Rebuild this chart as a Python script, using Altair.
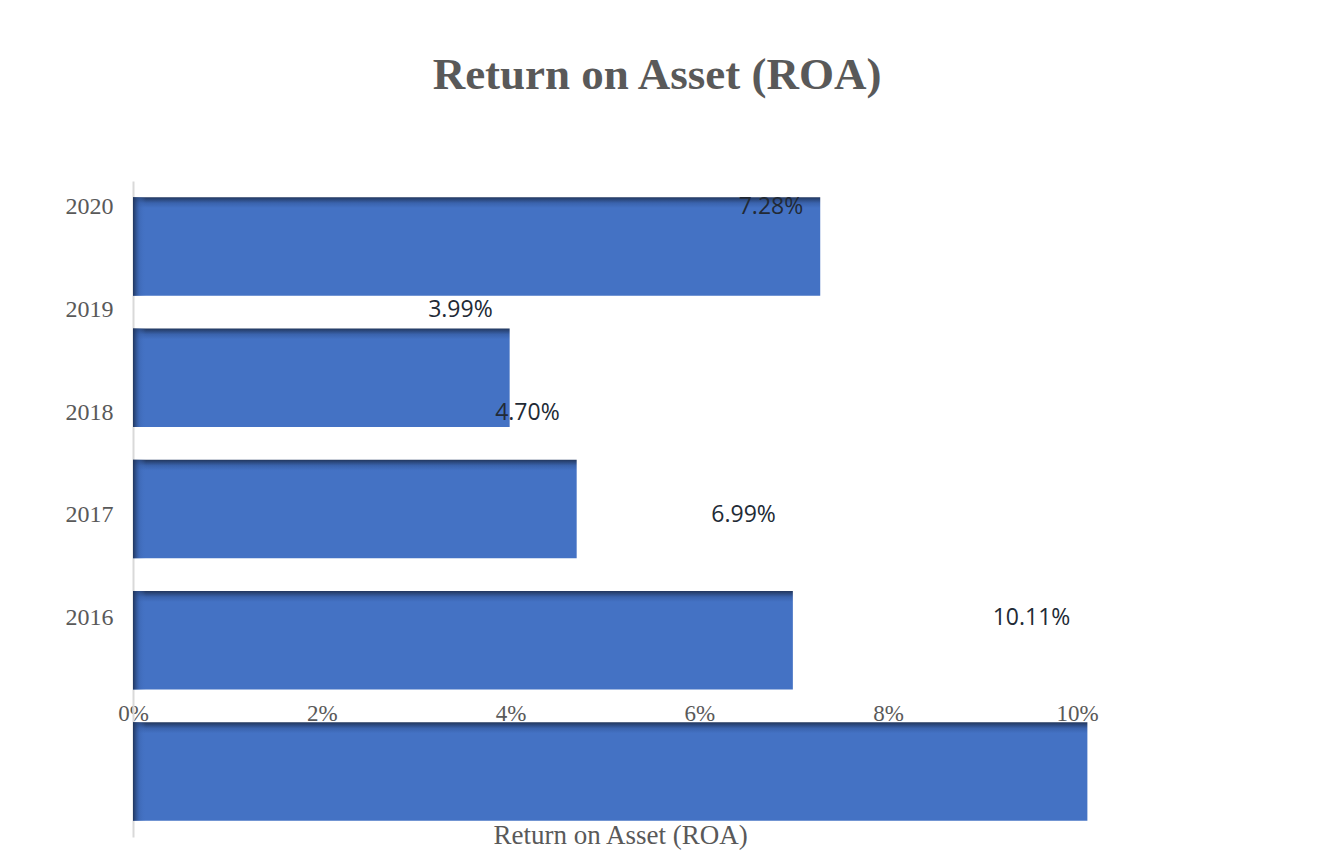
import altair as alt
import pandas as pd

years = ["2020", "2019", "2018", "2017", "2016"]
roa = [7.28, 3.99, 4.70, 6.99, 10.11]
x_ticks = [0, 2, 4, 6, 8, 10]

df = pd.DataFrame({"year": years, "roa": roa})
df["label"] = [f"{v:.2f}%" for v in roa]

GRAY = "#595959"
SERIF = "Liberation Serif"

x_scale = alt.Scale(domain=[0, 10], nice=False, zero=True)
x_axis = alt.Axis(
    values=x_ticks, labelExpr="datum.value + '%'", grid=False, domain=False,
    ticks=False, tickSize=0, labelFont=SERIF, labelFontSize=23, labelColor=GRAY,
    labelBaseline="middle", labelPadding=0, offset=-124, labelFlush=False,
    labelOverlap=False,
    title="Return on Asset (ROA)", titleFont=SERIF, titleFontSize=27,
    titleFontWeight="normal", titleColor=GRAY, titleBaseline="middle",
    titleAlign="center", titleX=487, titleY=122,
)

band = alt.Scale(type="band", paddingInner=0.25, paddingOuter=0.123)
label_band = alt.Scale(type="band", paddingInner=0.616, paddingOuter=1, align=0.0307)

top_grad = alt.LinearGradient(
    gradient="linear",
    stops=[
        alt.GradientStop(color="#22375e", offset=0),
        alt.GradientStop(color="#3a63ad", offset=0.06),
        alt.GradientStop(color="#4472c4", offset=0.11),
        alt.GradientStop(color="#4472c4", offset=1),
    ],
    x1=0, x2=0, y1=0, y2=1,
)
left_grad = alt.LinearGradient(
    gradient="linear",
    stops=[
        alt.GradientStop(color="rgba(30,50,88,0.95)", offset=0),
        alt.GradientStop(color="rgba(58,99,173,0.5)", offset=0.5),
        alt.GradientStop(color="rgba(68,114,196,0)", offset=1),
    ],
    x1=0, x2=1, y1=0, y2=0,
)

base = alt.Chart(df)

bars = base.mark_bar(color=top_grad).encode(
    x=alt.X("roa:Q", scale=x_scale, axis=x_axis),
    y=alt.Y("year:N", sort=years, scale=band, axis=None),
)

shade = base.mark_bar(color=left_grad).encode(
    x=alt.value(0),
    x2=alt.value(13),
    y=alt.Y("year:N", sort=years, scale=band, axis=None),
)

labels = base.mark_text(
    align="right", baseline="middle", dx=-17, font="Open Sans",
    fontSize=23, color="#222a35",
).encode(
    x=alt.X("roa:Q", scale=x_scale, axis=x_axis),
    y=alt.Y(
        "year:N", sort=years, scale=label_band,
        axis=alt.Axis(
            title=None, domain=True, domainColor="#d9d9d9", domainWidth=2,
            ticks=False, labelFont=SERIF, labelFontSize=24, labelColor=GRAY,
            labelPadding=20,
        ),
    ),
    text="label:N",
)

chart = (
    alt.layer(bars, shade, labels)
    .resolve_scale(y="independent")
    .properties(
        width=944,
        height=656,
        autosize=alt.AutoSizeParams(type="none"),
        padding={"left": 125, "top": 173, "right": 253, "bottom": 13},
        title=alt.TitleParams(
            "Return on Asset (ROA)", font=SERIF, fontSize=45, fontWeight="bold",
            color=GRAY, anchor="middle", frame="group", dx=52, offset=47,
            baseline="alphabetic",
        ),
    )
    .configure_view(stroke=None)
)

chart.save("out.html", embed_options={"renderer": "svg", "actions": False})
